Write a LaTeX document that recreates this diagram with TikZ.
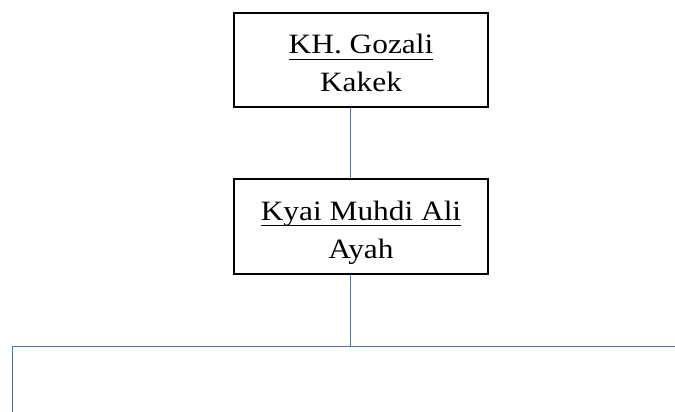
\documentclass[tikz,border=0pt]{standalone}
\usepackage{fontspec}
\setmainfont{Liberation Serif}[FakeStretch=1.12]
\definecolor{connblue}{HTML}{4472C4}
\begin{document}
\begin{tikzpicture}[x=1pt,y=-1pt,
 box/.style={draw=black,line width=2.2pt,minimum width=254pt,inner sep=0pt},
 lbl/.style={font=\fontsize{28}{34}\selectfont,anchor=base,inner sep=0pt},
 uline/.style={draw=black,line width=1.3pt},
 conn/.style={draw=connblue,line width=1pt}]
\useasboundingbox (0,0) rectangle (675,412);
\node[box,minimum height=94pt] (k) at (361,60) {};
\node[box,minimum height=95pt] (a) at (361,226.5) {};
\node[lbl] (kname) at (361,53.3) {KH. Gozali};
\node[lbl] (krole) at (361,91.7) {Kakek};
\node[lbl] (aname) at (361,220) {Kyai Muhdi Ali};
\node[lbl] (arole) at (361,258) {Ayah};
\draw[uline] ([yshift=-6pt]kname.base west) -- ([yshift=-6pt]kname.base east);
\draw[uline] ([yshift=-5.5pt]aname.base west) -- ([yshift=-5.5pt]aname.base east);
\coordinate (j) at (350,346);
\coordinate (l) at (12,346);
\coordinate (r) at (675,346);
\coordinate (ld) at (12,412);
\draw[conn] (k.south -| j) -- (a.north -| j);
\draw[conn] (a.south -| j) -- (j);
\draw[conn] (r) -- (l) -- (ld);
\end{tikzpicture}
\end{document}
